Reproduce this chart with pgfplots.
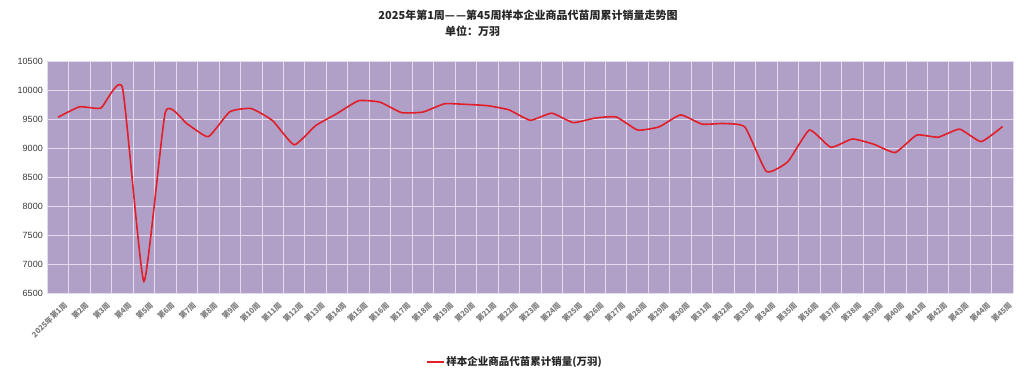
\documentclass[border=0pt]{standalone}
\usepackage{pgfplots}
\pgfplotsset{compat=1.18}
\usepackage{fontspec}
\setmainfont{Liberation Sans}
\newfontfamily\cjk{Noto Sans CJK SC}
\definecolor{bgpurple}{RGB}{176,160,200}
\definecolor{gridc}{RGB}{228,220,238}
\definecolor{linered}{RGB}{226,30,40}
\definecolor{ticktxt}{RGB}{125,125,125}
\pgfplotstableread{
x y
1 9530
2 9710
3 9690
4 10040
5 6700
6 9620
7 9420
8 9195
9 9625
10 9680
11 9470
12 9055
13 9385
14 9595
15 9815
16 9790
17 9610
18 9620
19 9762
20 9752
21 9730
22 9658
23 9478
24 9600
25 9438
26 9515
27 9535
28 9310
29 9365
30 9570
31 9412
32 9422
33 9360
34 8595
35 8765
36 9310
37 9012
38 9155
39 9065
40 8922
41 9222
42 9186
43 9325
44 9110
45 9370
}\datatable
\begin{document}
\begin{tikzpicture}
\begin{axis}[
  name=ax,
  scale only axis, width=966pt, height=232pt,
  xmin=0.5, xmax=45.5, ymin=6500, ymax=10500,
  axis background/.style={fill=bgpurple},
  axis line style={draw=none},
  ytick={6500,7000,...,10500},
  scaled y ticks=false,
  xtick={1,...,45},
  minor xtick={0.5,1.5,...,45.5},
  xminorgrids=true, ymajorgrids=true, xmajorgrids=false,
  minor grid style={draw=gridc, line width=0.9pt},
  major grid style={draw=gridc, line width=0.9pt},
  major tick length=0pt, minor tick length=0pt,
  yticklabel style={font=\fontsize{9}{11}\selectfont, text=black!78, xshift=-1pt},
  /pgf/number format/assume math mode=true,
  /pgf/number format/1000 sep={},
  xticklabel style={font=\cjk\bfseries\fontsize{7.6}{9}\selectfont, text=ticktxt, rotate=45, anchor=north east, inner sep=1pt, yshift=-8pt, xshift=-1pt},
  xticklabels={2025年第1周,第2周,第3周,第4周,第5周,第6周,第7周,第8周,第9周,第10周,第11周,第12周,第13周,第14周,第15周,第16周,第17周,第18周,第19周,第20周,第21周,第22周,第23周,第24周,第25周,第26周,第27周,第28周,第29周,第30周,第31周,第32周,第33周,第34周,第35周,第36周,第37周,第38周,第39周,第40周,第41周,第42周,第43周,第44周,第45周},
  legend style={at={(0.484,-0.297)}, anchor=center, draw=none, fill=none, font=\cjk\bfseries\fontsize{10.5}{12}\selectfont, text=black!85},
  legend image post style={line width=1.6pt},
  legend cell align=left,
]
\addplot[color=linered, line width=1.6pt, smooth, tension=0.28] table[x=x, y=y] {\datatable};
\addlegendentry{样本企业商品代苗累计销量(万羽)}
\end{axis}
\node[font=\cjk\bfseries\fontsize{11}{13}\selectfont, text=black!85] at ([xshift=480.7pt,yshift=278pt]ax.south west) {2025年第1周—\kern1pt—第45周样本企业商品代苗周累计销量走势图};
\node[font=\cjk\bfseries\fontsize{11}{13}\selectfont, text=black!85, anchor=west, inner sep=0pt] at ([xshift=397.7pt,yshift=262pt]ax.south west) {单位：万羽};
\pgfresetboundingbox
\path[use as bounding box] ([xshift=-47.3pt,yshift=-90pt]ax.south west) rectangle ([xshift=21.7pt,yshift=61pt]ax.north east);
\end{tikzpicture}
\end{document}
